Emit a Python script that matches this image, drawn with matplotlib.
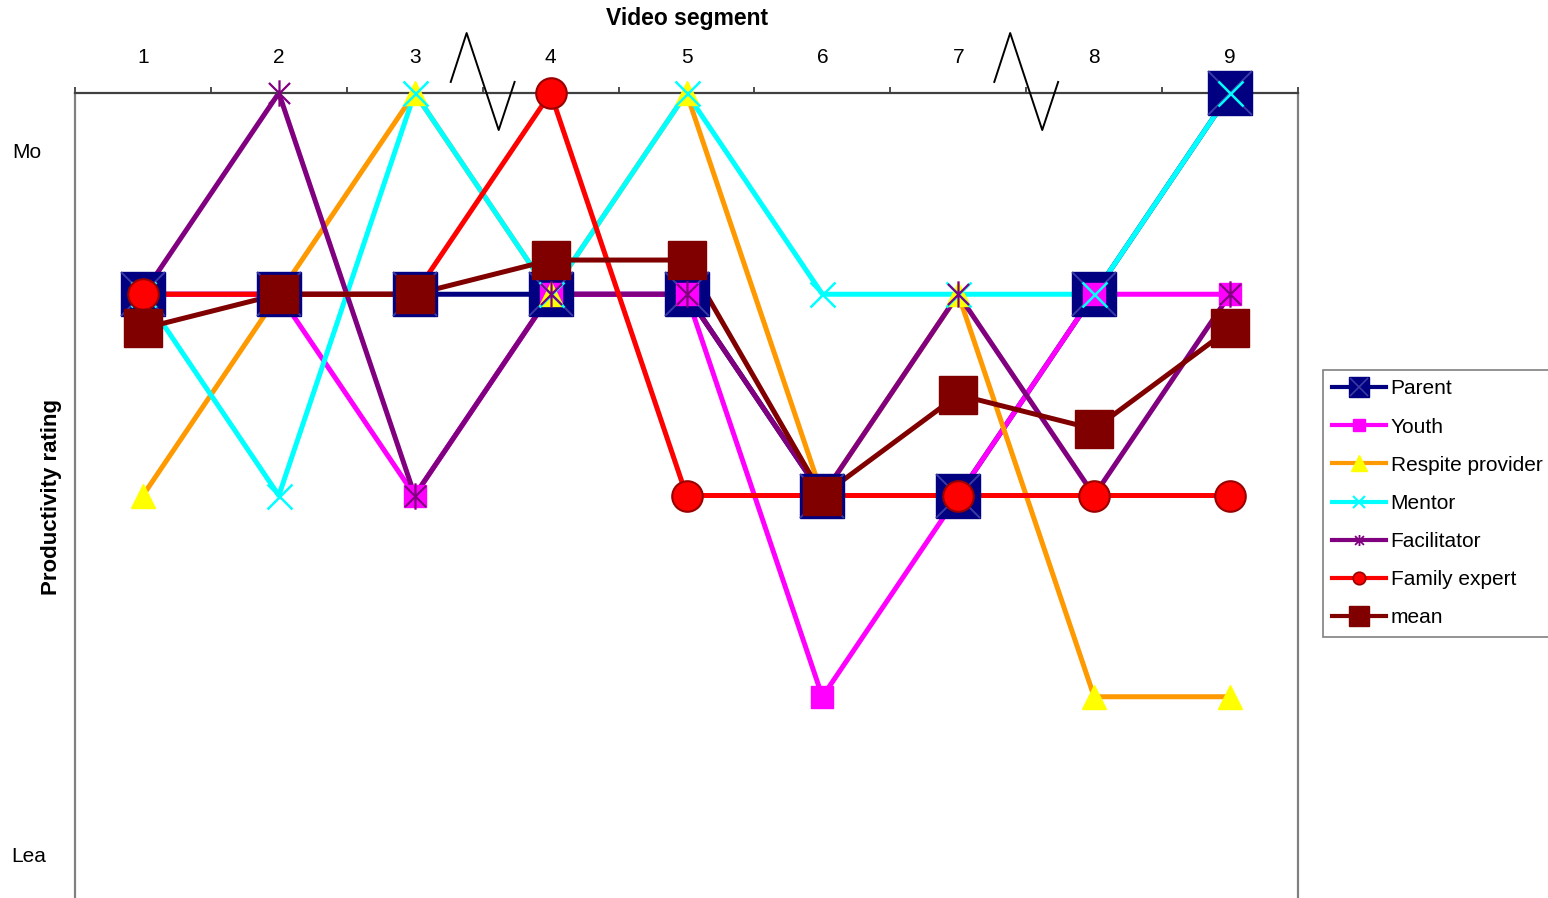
import matplotlib
matplotlib.use("Agg")
import matplotlib.pyplot as plt
from matplotlib.lines import Line2D
from matplotlib.path import Path
from matplotlib.legend_handler import HandlerTuple

plt.rcParams['font.family'] = ['Liberation Sans', 'DejaVu Sans']

segments = [1, 2, 3, 4, 5, 6, 7, 8, 9]
parent = [3, 3, 3, 3, 3, 2, 2, 3, 4]
youth = [3, 3, 2, 3, 3, 1, 2, 3, 3]
respite = [2, 3, 4, 3, 4, 2, 3, 1, 1]
mentor = [3, 2, 4, 3, 4, 3, 3, 3, 4]
facilitator = [3, 4, 2, 3, 3, 2, 3, 2, 3]
family_expert = [3, 3, 3, 4, 2, 2, 2, 2, 2]
mean = [2.83, 3.0, 3.0, 3.17, 3.17, 2.0, 2.5, 2.33, 2.83]

labels = ["Parent", "Youth", "Respite provider", "Mentor", "Facilitator",
          "Family expert", "mean"]

# asterisk marker: an x with a vertical stroke
ast_path = Path(
    [(-1, -1), (1, 1), (-1, 1), (1, -1), (0, -1.25), (0, 1.25)],
    [Path.MOVETO, Path.LINETO, Path.MOVETO, Path.LINETO, Path.MOVETO, Path.LINETO])

W, H = 1548, 898
fig = plt.figure(figsize=(W / 100, H / 100), dpi=100)
ax = fig.add_axes([75 / W, 0.0, (1298 - 75) / W, (898 - 93) / H])
ax.set_xlim(0.5, 9.5)
ax.set_ylim(0, 4)

lw = 3.6
series = [
    (parent, "#000080"),
    (youth, "#FF00FF"),
    (respite, "#FF9900"),
    (mentor, "#00FFFF"),
    (facilitator, "#800080"),
    (family_expert, "#FF0000"),
    (mean, "#800000"),
]
for vals, col in series:
    ax.plot(segments, vals, color=col, lw=lw, zorder=2, clip_on=False,
            solid_capstyle='butt')

# markers drawn above all the lines
ax.plot(segments, parent, ls='none', marker='s', ms=32, mfc='#000080',
        mec='#000080', zorder=3, clip_on=False)
ax.plot(segments, parent, ls='none', marker='x', ms=31, mec='#3a3aa6',
        mew=1.4, zorder=3.05, clip_on=False)
ax.plot(segments, youth, ls='none', marker='s', ms=16, mfc='#FF00FF',
        mec='#FF00FF', zorder=3.1, clip_on=False)
ax.plot(segments, respite, ls='none', marker='^', ms=17, mfc='#FFFF00',
        mec='#FFFF00', zorder=3.2, clip_on=False)
ax.plot(segments, mentor, ls='none', marker='x', ms=18, mec='#00FFFF',
        mew=1.8, zorder=3.3, clip_on=False)
ax.plot(segments, facilitator, ls='none', marker=ast_path, ms=19, mec='#800080',
        mfc='none', mew=1.6, zorder=3.4, clip_on=False)
ax.plot(segments, family_expert, ls='none', marker='o', ms=22, mfc='#FF0000',
        mec='#990000', mew=1.5, zorder=3.5, clip_on=False)
ax.plot(segments, mean, ls='none', marker='s', ms=28, mfc='#800000',
        mec='#800000', zorder=3.6, clip_on=False)

# axes frame
ax.spines['bottom'].set_visible(False)
ax.spines['top'].set_color('#404040')
ax.spines['top'].set_linewidth(1.6)
for side in ['left', 'right']:
    ax.spines[side].set_color('#808080')
    ax.spines[side].set_linewidth(1.6)

ax.xaxis.tick_top()
ax.set_xticks(segments)
ax.set_xticklabels([str(s) for s in segments], fontsize=15)
ax.set_xticks([s - 0.5 for s in segments] + [9.5], minor=True)
ax.tick_params(axis='x', which='major', length=0, pad=18.5)
ax.tick_params(axis='x', which='minor', length=4.5, width=1.3,
               color='#404040', direction='out')
ax.set_yticks([])

# axis break symbols on the category axis
for xb in [3.5, 7.5]:
    ax.plot([xb - 0.235, xb - 0.118, xb + 0.118, xb + 0.235],
            [4.055, 4.298, 3.816, 4.055], color='black', lw=1.4,
            clip_on=False, zorder=5)

fig.text(687 / W, 1 - 18 / H, "Video segment", fontsize=16.5, fontweight='bold',
         ha='center', va='center')
fig.text(52 / W, 1 - 497 / H, "Productivity rating", fontsize=16,
         fontweight='bold', rotation=90, ha='center', va='center')
fig.text(27 / W, 1 - 152 / H, "Mo", fontsize=15, ha='center', va='center')
fig.text(29 / W, 1 - 856 / H, "Lea", fontsize=15, ha='center', va='center')

# legend
lg_lw = 3.0
handles = [
    (Line2D([], [], color='#000080', lw=lg_lw, marker='s', ms=15,
            mfc='#000080', mec='#000080'),
     Line2D([], [], ls='none', marker='x', ms=13, mec='#3a3aa6', mew=1.2)),
    Line2D([], [], color='#FF00FF', lw=lg_lw, marker='s', ms=8,
           mfc='#FF00FF', mec='#FF00FF'),
    Line2D([], [], color='#FF9900', lw=lg_lw, marker='^', ms=11,
           mfc='#FFFF00', mec='#FFFF00'),
    Line2D([], [], color='#00FFFF', lw=lg_lw, marker='x', ms=9,
           mec='#00FFFF', mew=1.5),
    Line2D([], [], color='#800080', lw=lg_lw, marker=ast_path, ms=8,
           mec='#800080', mfc='none', mew=1.3),
    Line2D([], [], color='#FF0000', lw=lg_lw, marker='o', ms=9,
           mfc='#FF0000', mec='#990000', mew=1.2),
    Line2D([], [], color='#800000', lw=lg_lw, marker='s', ms=14,
           mfc='#800000', mec='#800000'),
]
leg = fig.legend(handles, labels, loc='upper left',
                 bbox_to_anchor=(1323 / W, 1 - 370 / H), fontsize=15,
                 frameon=True, fancybox=False, edgecolor='#606060',
                 handlelength=2.55, handletextpad=0.25, labelspacing=0.92,
                 borderpad=0.45, borderaxespad=0,
                 handler_map={tuple: HandlerTuple(ndivide=1)})
leg.get_frame().set_linewidth(1.2)

fig.savefig("out.png", dpi=100)
